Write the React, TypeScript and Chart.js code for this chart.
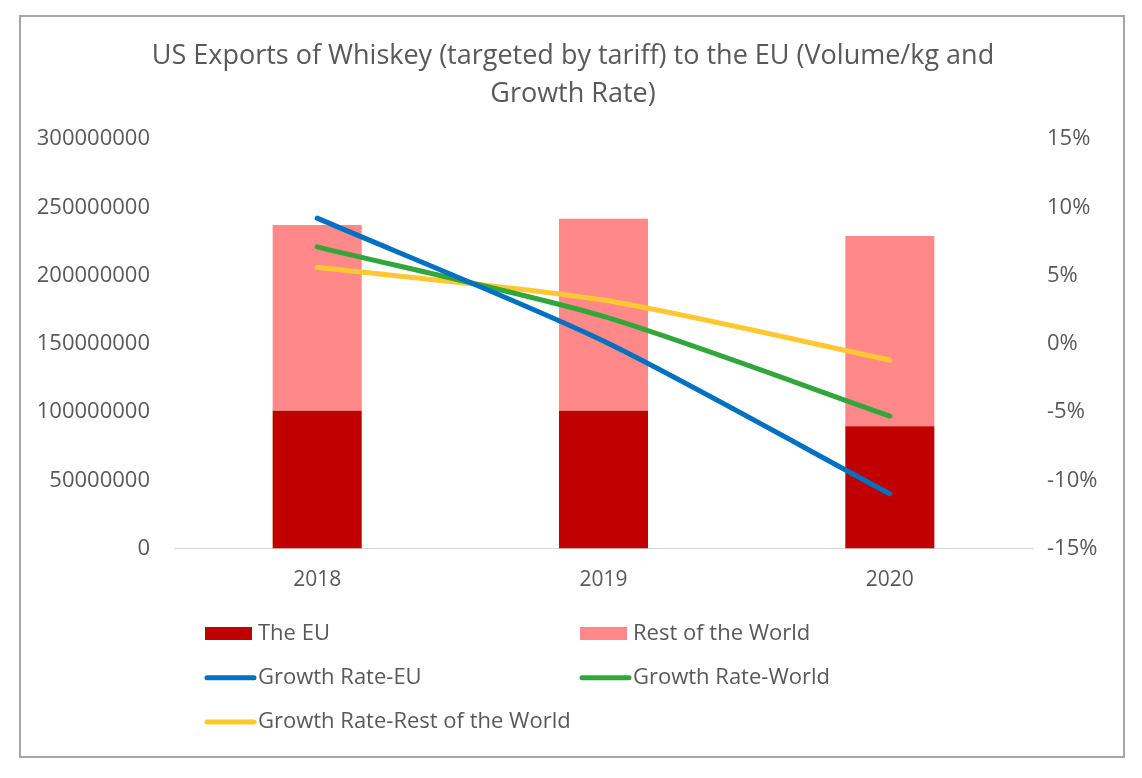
import React, { useEffect, useRef } from "react";
import { Chart, registerables } from "chart.js";

Chart.register(...registerables);

const titleLines = [
  "US Exports of Whiskey (targeted by tariff) to the EU (Volume/kg and",
  "Growth Rate)",
];
const categories = ["2018", "2019", "2020"];
const euVolume = [101000000, 101000000, 89500000];
const restVolume = [136000000, 140500000, 139500000];
const growthEU = [9.2, 0.2, -11.0];
const growthWorld = [7.1, 2.0, -5.3];
const growthRest = [5.6, 3.2, -1.2];

const FONT = "'Open Sans', 'Noto Sans', sans-serif";
const TEXT = "#595959";

const titlePlugin = {
  id: "customTitle",
  afterDraw(chart: any) {
    const ctx = chart.ctx;
    ctx.save();
    ctx.fillStyle = TEXT;
    ctx.font = `27px ${FONT}`;
    ctx.textAlign = "center";
    ctx.textBaseline = "middle";
    const cx = chart.width / 2 + 1;
    titleLines.forEach((t, i) => ctx.fillText(t, cx, 39 + i * 38));
    ctx.restore();
  },
};

const legendPlugin = {
  id: "customLegend",
  afterDraw(chart: any) {
    const ctx = chart.ctx;
    const ds = chart.data.datasets;
    const cols = [184, 559];
    const rows = [616.5, 660.7, 705];
    ctx.save();
    ctx.font = `22px ${FONT}`;
    ctx.textBaseline = "middle";
    ctx.textAlign = "left";
    ds.forEach((d: any, i: number) => {
      const col = cols[i % 2];
      const y = rows[Math.floor(i / 2)];
      if (d.type === "bar") {
        ctx.fillStyle = d.backgroundColor;
        ctx.fillRect(col, y - 6.5, 47, 13);
      } else {
        ctx.strokeStyle = d.borderColor;
        ctx.lineWidth = 5;
        ctx.lineCap = "round";
        ctx.beginPath();
        ctx.moveTo(col + 2, y);
        ctx.lineTo(col + 49, y);
        ctx.stroke();
      }
      ctx.fillStyle = TEXT;
      ctx.fillText(d.label, col + 53, y);
    });
    ctx.restore();
  },
};

export default function App() {
  const ref = useRef<HTMLCanvasElement | null>(null);
  useEffect(() => {
    if (!ref.current) return;
    const lineDs = (label: string, data: number[], color: string) => ({
      type: "line" as const,
      label,
      data,
      yAxisID: "y1",
      borderColor: color,
      backgroundColor: color,
      borderWidth: 5,
      borderCapStyle: "round" as const,
      borderJoinStyle: "round" as const,
      pointRadius: 0,
      tension: 0.25,
      order: 1,
    });
    const chart = new Chart(ref.current, {
      data: {
        labels: categories,
        datasets: [
          {
            type: "bar",
            label: "The EU",
            data: euVolume,
            backgroundColor: "#C00000",
            yAxisID: "y",
            stack: "s",
            order: 2,
            barPercentage: 0.311,
            categoryPercentage: 1,
          },
          {
            type: "bar",
            label: "Rest of the World",
            data: restVolume,
            backgroundColor: "#FF8989",
            yAxisID: "y",
            stack: "s",
            order: 2,
            barPercentage: 0.311,
            categoryPercentage: 1,
          },
          lineDs("Growth Rate-EU", growthEU, "#0070C0"),
          lineDs("Growth Rate-World", growthWorld, "#33A63B"),
          lineDs("Growth Rate-Rest of the World", growthRest, "#FFC832"),
        ] as any,
      },
      options: {
        animation: false,
        responsive: false,
        maintainAspectRatio: false,
        layout: { padding: { top: 122, bottom: 157.5, left: 0, right: 0 } },
        plugins: {
          legend: { display: false },
          title: { display: false },
          tooltip: { enabled: false },
        },
        scales: {
          x: {
            stacked: true,
            grid: { display: false, drawTicks: false },
            border: { display: true, color: "#D9D9D9", width: 1 },
            ticks: { color: TEXT, font: { family: FONT, size: 21 }, padding: 19 },
            afterFit: (s: any) => {
              s.height = 50;
            },
          },
          y: {
            position: "left",
            stacked: true,
            min: 0,
            max: 300000000,
            grid: { display: false, drawTicks: false },
            border: { display: false },
            ticks: {
              stepSize: 50000000,
              color: TEXT,
              font: { family: FONT, size: 22 },
              padding: 24,
              callback: (v: any) => String(v),
            },
            afterFit: (s: any) => {
              s.width = 153;
            },
          },
          y1: {
            position: "right",
            min: -15,
            max: 15,
            grid: { display: false, drawTicks: false },
            border: { display: false },
            ticks: {
              stepSize: 5,
              color: TEXT,
              font: { family: FONT, size: 22 },
              padding: 14,
              callback: (v: any) => `${v}%`,
            },
            afterFit: (s: any) => {
              s.width = 90;
            },
          },
        },
      },
      plugins: [titlePlugin, legendPlugin],
    });
    return () => chart.destroy();
  }, []);

  return (
    <div
      style={{
        position: "absolute",
        left: 19,
        top: 15,
        width: 1106,
        height: 743,
        border: "2px solid #A6A6A6",
        boxSizing: "border-box",
        background: "#fff",
      }}
    >
      <canvas ref={ref} width={1102} height={739} style={{ display: "block", width: 1102, height: 739 }} />
    </div>
  );
}
